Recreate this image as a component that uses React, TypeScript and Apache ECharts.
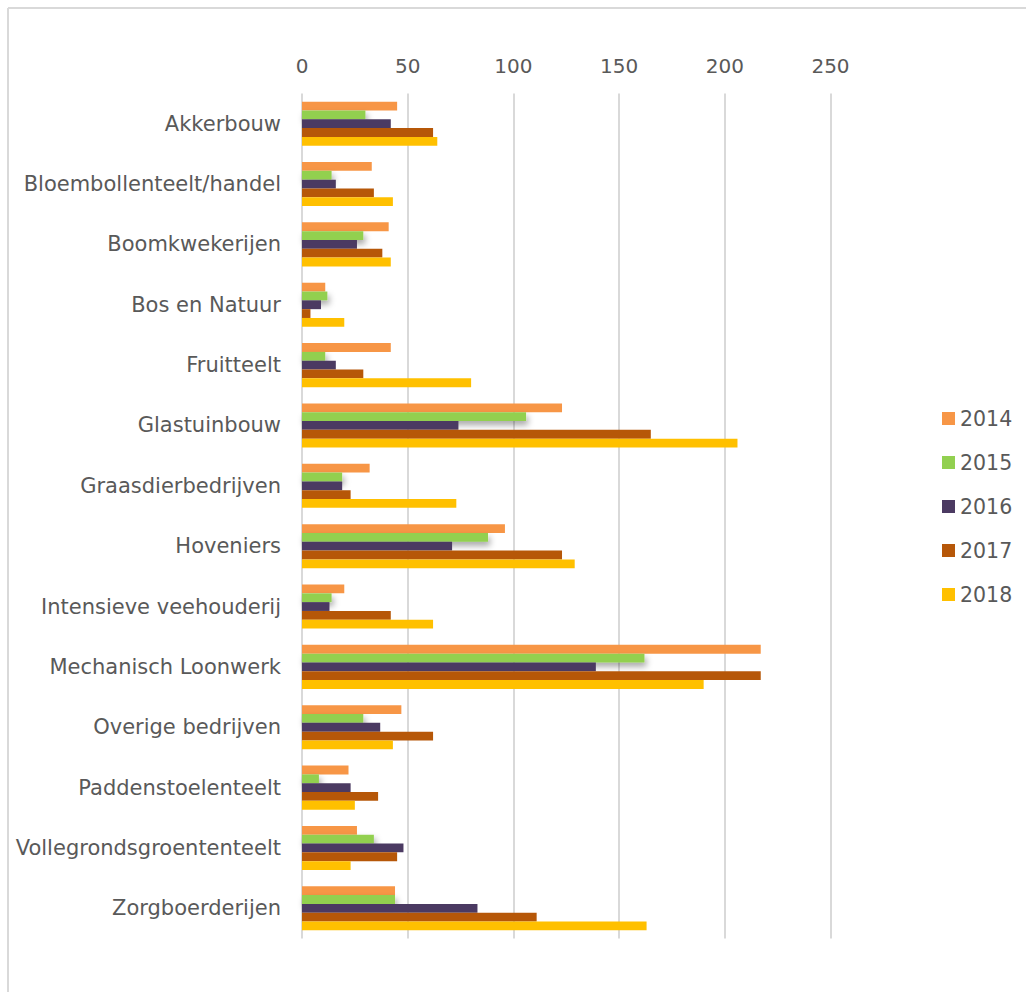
import React, { useEffect, useRef } from "react";
import * as echarts from "echarts";

const categories = [
  "Akkerbouw",
  "Bloembollenteelt/handel",
  "Boomkwekerijen",
  "Bos en Natuur",
  "Fruitteelt",
  "Glastuinbouw",
  "Graasdierbedrijven",
  "Hoveniers",
  "Intensieve veehouderij",
  "Mechanisch Loonwerk",
  "Overige bedrijven",
  "Paddenstoelenteelt",
  "Vollegrondsgroententeelt",
  "Zorgboerderijen",
];

const years = ["2014", "2015", "2016", "2017", "2018"];

const v2014 = [45, 33, 41, 11, 42, 123, 32, 96, 20, 217, 47, 22, 26, 44];
const v2015 = [30, 14, 29, 12, 11, 106, 19, 88, 14, 162, 29, 8, 34, 44];
const v2016 = [42, 16, 26, 9, 16, 74, 19, 71, 13, 139, 37, 23, 48, 83];
const v2017 = [62, 34, 38, 4, 29, 165, 23, 123, 42, 217, 62, 36, 45, 111];
const v2018 = [64, 43, 42, 20, 80, 206, 73, 129, 62, 190, 43, 25, 23, 163];

const seriesValues = [v2014, v2015, v2016, v2017, v2018];
const colors = ["#F79646", "#92D050", "#4B3A62", "#B65708", "#FFC000"];

const FONT = "DejaVu Sans";
const TEXT = "#595959";

export default function App() {
  const ref = useRef<HTMLDivElement>(null);

  useEffect(() => {
    if (!ref.current) return;
    const chart = echarts.init(ref.current, null, { renderer: "svg" });
    chart.setOption({
      animation: false,
      backgroundColor: "#ffffff",
      textStyle: { fontFamily: FONT, color: TEXT },
      graphic: [
        {
          type: "line",
          shape: { x1: 8, y1: 8, x2: 1026, y2: 8 },
          style: { stroke: "#D9D9D9", lineWidth: 2 },
        },
        {
          type: "line",
          shape: { x1: 8, y1: 8, x2: 8, y2: 992 },
          style: { stroke: "#D9D9D9", lineWidth: 2 },
        },
      ],
      legend: {
        orient: "vertical",
        left: 942,
        top: 408,
        padding: 0,
        itemWidth: 13,
        itemHeight: 13,
        itemGap: 23,
        icon: "rect",
        textStyle: { fontFamily: FONT, fontSize: 20.5, color: TEXT },
        data: years,
      },
      grid: {
        left: 302,
        right: 195.5,
        top: 93.5,
        bottom: 53.5,
        containLabel: false,
      },
      xAxis: {
        type: "value",
        position: "top",
        min: 0,
        max: 250,
        interval: 50,
        axisLine: { show: false },
        axisTick: { show: false },
        axisLabel: { fontFamily: FONT, fontSize: 20, color: TEXT, margin: 18 },
        splitLine: { show: true, lineStyle: { color: "#D9D9D9", width: 2 } },
      },
      yAxis: {
        type: "category",
        inverse: true,
        data: categories,
        axisLine: { show: false },
        axisTick: { show: false },
        axisLabel: { fontFamily: FONT, fontSize: 21, color: TEXT, margin: 21 },
      },
      series: years.map((y, i) => ({
        name: y,
        type: "bar",
        data: seriesValues[i],
        barGap: "0%",
        barCategoryGap: "27%",
        itemStyle:
          i === 1
            ? {
                color: colors[i],
                shadowColor: "rgba(0,0,0,0.35)",
                shadowBlur: 6,
                shadowOffsetX: 2,
                shadowOffsetY: 4,
              }
            : { color: colors[i] },
      })),
    });
    return () => chart.dispose();
  }, []);

  return (
    <div style={{ position: "fixed", left: 0, top: 0, width: 1026, height: 992 }}>
      <div ref={ref} style={{ width: 1026, height: 992 }} />
    </div>
  );
}
